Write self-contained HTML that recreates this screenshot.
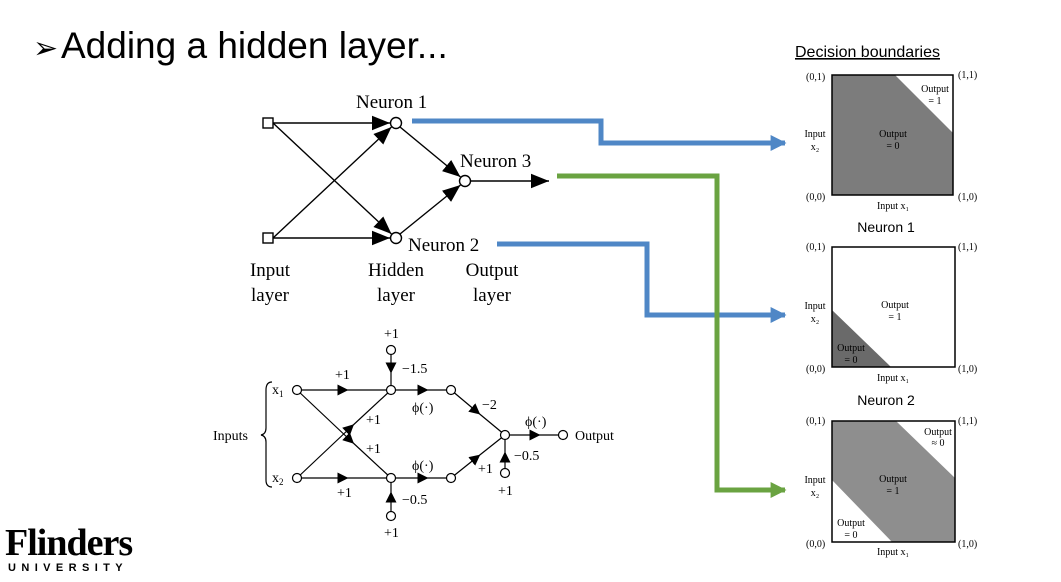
<!DOCTYPE html>
<html><head><meta charset="utf-8"><style>
body{margin:0;background:#fff;}
svg{display:block;}
.s{font-family:"Liberation Serif",serif;fill:#000;}
.a{font-family:"Liberation Sans",sans-serif;fill:#000;}
</style></head><body>
<svg width="1061" height="582" viewBox="0 0 1061 582">
<defs>
<marker id="ah" viewBox="0 0 10 10" refX="10" refY="5" markerWidth="18" markerHeight="18" orient="auto" markerUnits="userSpaceOnUse"><path d="M0,1L10,5L0,9z" fill="#000"/></marker>
<marker id="as" viewBox="0 0 10 10" refX="5" refY="5" markerWidth="11" markerHeight="11" orient="auto" markerUnits="userSpaceOnUse"><path d="M0,0L10,5L0,10z" fill="#000"/></marker>
<marker id="ab" viewBox="0 0 10 10" refX="9" refY="5" markerWidth="16" markerHeight="16" orient="auto" markerUnits="userSpaceOnUse"><path d="M0,0L10,5L0,10z" fill="#4f87c6"/></marker>
<marker id="ag" viewBox="0 0 10 10" refX="9" refY="5" markerWidth="16" markerHeight="16" orient="auto" markerUnits="userSpaceOnUse"><path d="M0,0L10,5L0,10z" fill="#6aa341"/></marker>
</defs>

<text x="33" y="58" class="a" font-size="30">➢</text>
<text x="61" y="58" class="a" font-size="37">Adding a hidden layer...</text>

<!-- network 1 -->
<g stroke="#000" stroke-width="1.4" fill="none">
<rect x="263" y="118" width="10" height="10" fill="#fff"/>
<rect x="263" y="233" width="10" height="10" fill="#fff"/>
<line x1="273" y1="123" x2="390" y2="123" marker-end="url(#ah)"/>
<line x1="273" y1="123" x2="391.5" y2="234" marker-end="url(#ah)"/>
<line x1="273" y1="238" x2="391.5" y2="127" marker-end="url(#ah)"/>
<line x1="273" y1="238" x2="390" y2="238" marker-end="url(#ah)"/>
<line x1="400" y1="127" x2="460.5" y2="177" marker-end="url(#ah)"/>
<line x1="400" y1="234" x2="460.5" y2="185" marker-end="url(#ah)"/>
<line x1="470" y1="181" x2="549" y2="181" marker-end="url(#ah)"/>
<circle cx="396" cy="123" r="5.5" fill="#fff"/>
<circle cx="396" cy="238" r="5.5" fill="#fff"/>
<circle cx="465" cy="181" r="5.5" fill="#fff"/>
</g>
<g class="s" font-size="19">
<text x="356" y="108">Neuron 1</text>
<text x="460" y="167">Neuron 3</text>
<text x="408" y="251">Neuron 2</text>
<text x="270" y="276" text-anchor="middle">Input</text><text x="270" y="301" text-anchor="middle">layer</text>
<text x="396" y="276" text-anchor="middle">Hidden</text><text x="396" y="301" text-anchor="middle">layer</text>
<text x="492" y="276" text-anchor="middle">Output</text><text x="492" y="301" text-anchor="middle">layer</text>
</g>

<!-- connectors -->
<polyline points="412,121 601,121 601,143 785,143" stroke="#4f87c6" stroke-width="5" fill="none" marker-end="url(#ab)"/>
<polyline points="497,244 647,244 647,315 785,315" stroke="#4f87c6" stroke-width="5" fill="none" marker-end="url(#ab)"/>
<polyline points="557,176 717,176 717,490 785,490" stroke="#6aa341" stroke-width="5" fill="none" marker-end="url(#ag)"/>

<!-- network 2 -->
<g>
<g stroke="#000" stroke-width="1.2" fill="none">
<path d="M272,382 Q266,382 266,390 L266,428 Q266,434 261,435 Q266,436 266,442 L266,480 Q266,487 272,487"/>
<line x1="297" y1="390" x2="343" y2="390" marker-end="url(#as)"/><line x1="343" y1="390" x2="391" y2="390"/>
<line x1="297" y1="478" x2="343" y2="478" marker-end="url(#as)"/><line x1="343" y1="478" x2="391" y2="478"/>
<line x1="297" y1="390" x2="350" y2="440" marker-end="url(#as)"/><line x1="350" y1="440" x2="391" y2="478"/>
<line x1="297" y1="478" x2="350" y2="428" marker-end="url(#as)"/><line x1="350" y1="428" x2="391" y2="390"/>
<line x1="391" y1="390" x2="423" y2="390" marker-end="url(#as)"/><line x1="423" y1="390" x2="451" y2="390"/>
<line x1="391" y1="478" x2="423" y2="478" marker-end="url(#as)"/><line x1="423" y1="478" x2="451" y2="478"/>
<line x1="391" y1="350" x2="391" y2="368" marker-end="url(#as)"/><line x1="391" y1="368" x2="391" y2="390"/>
<line x1="391" y1="516" x2="391" y2="497" marker-end="url(#as)"/><line x1="391" y1="497" x2="391" y2="478"/>
<line x1="451" y1="390" x2="476" y2="411" marker-end="url(#as)"/><line x1="476" y1="411" x2="505" y2="435"/>
<line x1="451" y1="478" x2="476" y2="458" marker-end="url(#as)"/><line x1="476" y1="458" x2="505" y2="435"/>
<line x1="505" y1="435" x2="535" y2="435" marker-end="url(#as)"/><line x1="535" y1="435" x2="563" y2="435"/>
<line x1="505" y1="473" x2="505" y2="457" marker-end="url(#as)"/><line x1="505" y1="457" x2="505" y2="435"/>
</g>
<g stroke="#000" stroke-width="1.2" fill="#fff">
<circle cx="297" cy="390" r="4.5"/><circle cx="297" cy="478" r="4.5"/>
<circle cx="391" cy="390" r="4.5"/><circle cx="391" cy="478" r="4.5"/>
<circle cx="451" cy="390" r="4.5"/><circle cx="451" cy="478" r="4.5"/>
<circle cx="505" cy="435" r="4.5"/><circle cx="563" cy="435" r="4.5"/>
<circle cx="391" cy="350" r="4.5"/><circle cx="391" cy="516" r="4.5"/>
<circle cx="505" cy="473" r="4.5"/>
</g>
<g class="s" font-size="14">
<text x="213" y="440">Inputs</text>
<text x="272" y="394">x<tspan font-size="9" dy="3">1</tspan></text>
<text x="272" y="482">x<tspan font-size="9" dy="3">2</tspan></text>
<text x="335" y="379">+1</text><text x="337" y="497">+1</text>
<text x="366" y="424">+1</text><text x="366" y="453">+1</text>
<text x="384" y="338">+1</text><text x="384" y="537">+1</text>
<text x="402" y="373">−1.5</text><text x="402" y="504">−0.5</text>
<text x="412" y="412">ϕ(·)</text><text x="412" y="470">ϕ(·)</text>
<text x="482" y="409">−2</text><text x="478" y="473">+1</text>
<text x="525" y="426">ϕ(·)</text><text x="514" y="460">−0.5</text>
<text x="498" y="495">+1</text>
<text x="575" y="440">Output</text>
</g>
</g>

<!-- decision boundaries -->
<text x="795" y="57" class="a" font-size="16" text-decoration="underline">Decision boundaries</text>
<g>
<polygon points="832,75 895,75 953,133 953,195 832,195" fill="#7c7c7c"/>
<rect x="832" y="75" width="121" height="120" fill="none" stroke="#000" stroke-width="1.5"/>
<g class="s" font-size="10"><text x="806" y="80">(0,1)</text><text x="958" y="78">(1,1)</text><text x="806" y="200">(0,0)</text><text x="958" y="200">(1,0)</text>
<text x="893" y="209" text-anchor="middle">Input x₁</text><text x="815" y="137" text-anchor="middle">Input</text><text x="815" y="150" text-anchor="middle">x₂</text>
<text x="935" y="92" text-anchor="middle">Output</text><text x="935" y="104" text-anchor="middle">= 1</text>
<text x="893" y="137" text-anchor="middle">Output</text><text x="893" y="149" text-anchor="middle">= 0</text></g>
</g>
<text x="886" y="232" class="a" font-size="14" text-anchor="middle">Neuron 1</text>
<g>
<polygon points="832,310 891,367 832,367" fill="#6a6a6a"/>
<rect x="832" y="247" width="123" height="120" fill="none" stroke="#000" stroke-width="1.5"/>
<g class="s" font-size="10"><text x="806" y="250">(0,1)</text><text x="958" y="250">(1,1)</text><text x="806" y="372">(0,0)</text><text x="958" y="372">(1,0)</text>
<text x="893" y="381" text-anchor="middle">Input x₁</text><text x="815" y="309" text-anchor="middle">Input</text><text x="815" y="322" text-anchor="middle">x₂</text>
<text x="895" y="308" text-anchor="middle">Output</text><text x="895" y="320" text-anchor="middle">= 1</text>
<text x="851" y="351" text-anchor="middle">Output</text><text x="851" y="363" text-anchor="middle">= 0</text></g>
</g>
<text x="886" y="405" class="a" font-size="14" text-anchor="middle">Neuron 2</text>
<g>
<polygon points="832,421 896,421 955,478 955,542 892,542 832,480" fill="#8e8e8e"/>
<rect x="832" y="421" width="123" height="121" fill="none" stroke="#000" stroke-width="1.5"/>
<g class="s" font-size="10"><text x="806" y="424">(0,1)</text><text x="958" y="424">(1,1)</text><text x="806" y="547">(0,0)</text><text x="958" y="547">(1,0)</text>
<text x="893" y="555" text-anchor="middle">Input x₁</text><text x="815" y="483" text-anchor="middle">Input</text><text x="815" y="496" text-anchor="middle">x₂</text>
<text x="938" y="435" text-anchor="middle">Output</text><text x="938" y="446" text-anchor="middle">≈ 0</text>
<text x="893" y="482" text-anchor="middle">Output</text><text x="893" y="494" text-anchor="middle">= 1</text>
<text x="851" y="526" text-anchor="middle">Output</text><text x="851" y="538" text-anchor="middle">= 0</text></g>
</g>

<g>
<text x="5" y="555" class="s" font-size="38" font-weight="bold" letter-spacing="-1">Flinders</text>
<text x="8" y="571" class="a" font-size="11" font-weight="bold" letter-spacing="5.4">UNIVERSITY</text>
</g>
</svg>
</body></html>
